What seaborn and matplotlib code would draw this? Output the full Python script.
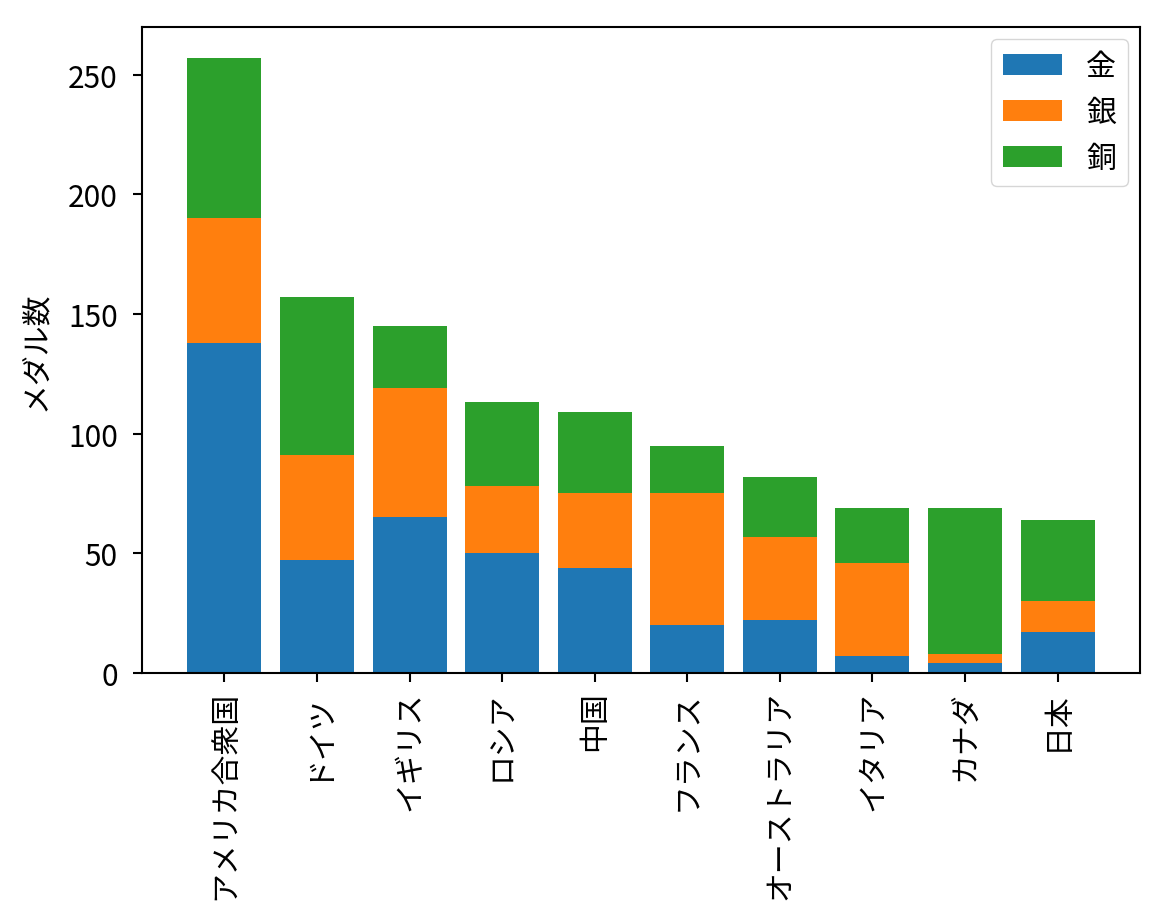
import numpy as np
import matplotlib
matplotlib.use("Agg")
import matplotlib.pyplot as plt
import seaborn as sns

plt.rcParams["font.family"] = ["Noto Sans CJK JP", "DejaVu Sans"]
plt.rcParams["font.size"] = 21.5
plt.rcParams["axes.linewidth"] = 1.5
plt.rcParams["xtick.major.width"] = 1.5
plt.rcParams["ytick.major.width"] = 1.5
plt.rcParams["xtick.major.size"] = 6.4
plt.rcParams["ytick.major.size"] = 6.4

countries = ["アメリカ合衆国", "ドイツ", "イギリス", "ロシア", "中国",
             "フランス", "オーストラリア", "イタリア", "カナダ", "日本"]
gold = np.array([138, 47, 65, 50, 44, 20, 22, 7, 4, 17])
silver = np.array([52, 44, 54, 28, 31, 55, 35, 39, 4, 13])
bronze = np.array([67, 66, 26, 35, 34, 20, 25, 23, 61, 34])

colors = ["#1f77b4", "#ff7f0e", "#2ca02c"]

fig, ax = plt.subplots(figsize=(11.68, 9.12), dpi=100)
fig.subplots_adjust(left=0.1216, right=0.976, top=0.9693, bottom=0.261)

# stacked bars: draw cumulative totals back to front
layers = [
    (gold + silver + bronze, colors[2]),
    (gold + silver, colors[1]),
    (gold, colors[0]),
]
for values, c in layers:
    sns.barplot(x=countries, y=values, color=c, saturation=1, width=0.8,
                linewidth=0, ax=ax)

total = gold + silver + bronze
ax.set_xlim(-0.89, len(countries) - 1 + 0.89)
ax.set_ylim(0, total.max() * 1.05)
ax.set_yticks([0, 50, 100, 150, 200, 250])
ax.tick_params(axis="x", labelrotation=90, pad=6)
ax.tick_params(axis="y", pad=11)
ax.set_ylabel("メダル数", labelpad=12)
ax.set_xlabel("")

handles = [ax.containers[2], ax.containers[1], ax.containers[0]]
ax.legend(handles, ["金", "銀", "銅"], loc="upper right", borderaxespad=0.4)

fig.savefig("out.png", dpi=100)
